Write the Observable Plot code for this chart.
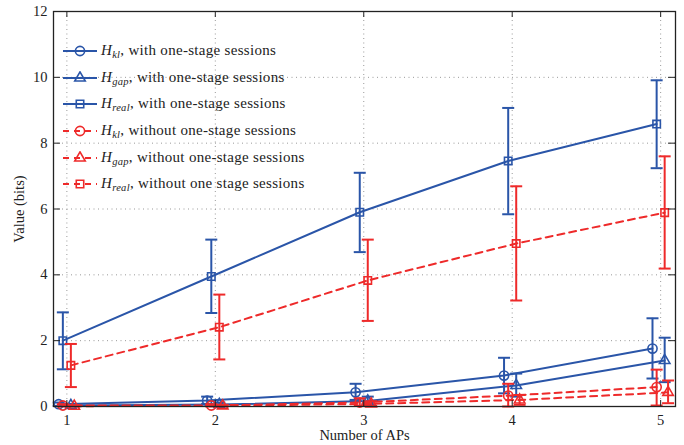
<!DOCTYPE html>
<html>
<head>
<meta charset="utf-8">
<script src="https://cdn.jsdelivr.net/npm/d3@7"></script>
<script src="https://cdn.jsdelivr.net/npm/@observablehq/plot@0.6"></script>
<style>
  body { margin: 0; background: #fff; }
  #wrap { position: relative; width: 684px; height: 445px; font-family: "Liberation Serif", "DejaVu Serif", serif; }
  #legend { position: absolute; left: 62px; top: 38px; color: #222; font-size: 15px; letter-spacing: 0.3px; }
  .row { display: flex; align-items: center; height: 26.6px; white-space: nowrap; }
  .row svg { margin-right: 3px; }
  .H { font-style: italic; }
  sub { font-style: italic; font-size: 10.5px; vertical-align: -3px; letter-spacing: 0.3px; }
</style>
</head>
<body>
<div id="wrap"><div id="legend"></div></div>
<script>
// ---- data ----
const aps = [1, 2, 3, 4, 5];

const klWith    = [0.07, 0.18, 0.43, 0.94, 1.76];
const klWithLo  = [0.02, 0.08, 0.20, 0.40, 0.85];
const klWithHi  = [0.12, 0.30, 0.69, 1.48, 2.68];

const gapWith   = [0.03, 0.06, 0.17, 0.64, 1.40];
const gapWithLo = [0.00, 0.01, 0.05, 0.30, 0.74];
const gapWithHi = [0.07, 0.12, 0.30, 1.00, 2.09];

const realWith   = [2.00, 3.95, 5.90, 7.46, 8.58];
const realWithLo = [1.13, 2.84, 4.69, 5.84, 7.24];
const realWithHi = [2.86, 5.07, 7.10, 9.07, 9.91];

const klWithout   = [0.03, 0.03, 0.12, 0.33, 0.59];
const klWithoutLo = [0.00, 0.00, 0.02, 0.00, 0.03];
const klWithoutHi = [0.07, 0.07, 0.25, 0.69, 1.12];

const gapWithout   = [0.01, 0.02, 0.08, 0.20, 0.43];
const gapWithoutLo = [0.00, 0.00, 0.02, 0.05, 0.10];
const gapWithoutHi = [0.04, 0.05, 0.16, 0.35, 0.79];

const realWithout   = [1.25, 2.41, 3.83, 4.95, 5.89];
const realWithoutLo = [0.59, 1.43, 2.60, 3.22, 4.19];
const realWithoutHi = [1.90, 3.40, 5.07, 6.69, 7.60];

const yTicks = [0, 2, 4, 6, 8, 10, 12];
const xTicks = [1, 2, 3, 4, 5];

const blue = "#2a55a8";
const red = "#ee2a2a";

const series = [
  {sub: "kl",   text: ", with one-stage sessions",    sym: "circle",   color: blue, dash: null,  off: -0.055, y: klWith,      lo: klWithLo,      hi: klWithHi},
  {sub: "gap",  text: ", with one-stage sessions",    sym: "triangle", color: blue, dash: null,  off: 0.027,  y: gapWith,     lo: gapWithLo,     hi: gapWithHi},
  {sub: "real", text: ", with one-stage sessions",    sym: "square",   color: blue, dash: null,  off: -0.027, y: realWith,    lo: realWithLo,    hi: realWithHi},
  {sub: "kl",   text: ", without one-stage sessions", sym: "circle",   color: red,  dash: "7,5", off: -0.027, y: klWithout,   lo: klWithoutLo,   hi: klWithoutHi},
  {sub: "gap",  text: ", without one-stage sessions", sym: "triangle", color: red,  dash: "7,5", off: 0.05,   y: gapWithout,  lo: gapWithoutLo,  hi: gapWithoutHi},
  {sub: "real", text: ", without one stage sessions", sym: "square",   color: red,  dash: "7,5", off: 0.027,  y: realWithout, lo: realWithoutLo, hi: realWithoutHi}
];

const symR = {circle: 4.6, triangle: 3.9, square: 4.2};
const hbar = { draw(ctx, size) { const w = Math.sqrt(size / Math.PI); ctx.moveTo(-w, 0); ctx.lineTo(w, 0); } };

const marks = [
  Plot.ruleY(yTicks.slice(1, -1), {stroke: "#999", strokeDasharray: "1,3.5", strokeWidth: 1}),
  Plot.ruleX(xTicks, {stroke: "#999", strokeDasharray: "1,3.5", strokeWidth: 1}),
];

for (const s of series) {
  const rows = aps.map((a, i) => ({x: a + s.off, y: s.y[i], lo: s.lo[i], hi: s.hi[i]}));
  marks.push(
    Plot.line(rows, {x: "x", y: "y", stroke: s.color, strokeWidth: 2, strokeDasharray: s.dash}),
    Plot.ruleX(rows, {x: "x", y1: "lo", y2: "hi", stroke: s.color, strokeWidth: 2}),
    Plot.dot(rows, {x: "x", y: "lo", symbol: hbar, r: 6, stroke: s.color, strokeWidth: 2}),
    Plot.dot(rows, {x: "x", y: "hi", symbol: hbar, r: 6, stroke: s.color, strokeWidth: 2}),
    Plot.dot(rows, {x: "x", y: "y", symbol: s.sym, r: symR[s.sym], stroke: s.color, strokeWidth: 1.6, fill: "none"})
  );
}

marks.push(
  Plot.frame({stroke: "#222", strokeWidth: 1.3}),
  Plot.axisY({ticks: yTicks, tickSize: 0, tickPadding: 6, fontSize: 14.5, label: "Value (bits)", labelAnchor: "center", labelArrow: "none", labelOffset: 40}),
  Plot.tickY(yTicks, {y: d => d, stroke: "#222", strokeWidth: 1, insetRight: 615}),
  Plot.tickY(yTicks, {y: d => d, stroke: "#222", strokeWidth: 1, insetLeft: 615}),
  Plot.axisX({ticks: xTicks, tickFormat: "d", tickSize: 0, tickPadding: 8, fontSize: 14.5, label: "Number of APs", labelAnchor: "center", labelArrow: "none", labelOffset: 33}),
  Plot.tickX(xTicks, {x: d => d, stroke: "#222", strokeWidth: 1, insetTop: 389}),
  Plot.tickX(xTicks, {x: d => d, stroke: "#222", strokeWidth: 1, insetBottom: 389})
);

const chart = Plot.plot({
  width: 684,
  height: 445,
  marginLeft: 53,
  marginRight: 9,
  marginTop: 11,
  marginBottom: 39,
  style: {fontFamily: "'Liberation Serif', 'DejaVu Serif', serif", fontSize: "14.5px", color: "#222", background: "#fff"},
  x: {domain: [0.91, 5.1]},
  y: {domain: [0, 12]},
  marks
});
document.getElementById("wrap").prepend(chart);

// legend (inside the plot area, top-left)
const legend = d3.select("#legend");
for (const s of series) {
  const row = legend.append("div").attr("class", "row");
  const svg = row.append("svg").attr("width", 36).attr("height", 14);
  svg.append("line").attr("x1", 1).attr("x2", 35).attr("y1", 7).attr("y2", 7)
    .attr("stroke", s.color).attr("stroke-width", 2)
    .attr("stroke-dasharray", s.dash ? "6,5" : null);
  const sym = {circle: d3.symbolCircle, triangle: d3.symbolTriangle, square: d3.symbolSquare}[s.sym];
  const r = symR[s.sym];
  svg.append("path").attr("transform", "translate(18,7)")
    .attr("d", d3.symbol(sym, r * r * Math.PI)())
    .attr("fill", "none").attr("stroke", s.color).attr("stroke-width", 1.6);
  const t = row.append("span");
  t.append("span").attr("class", "H").text("H");
  t.append("sub").text(s.sub);
  t.append("span").text(s.text);
}
</script>
</body>
</html>
